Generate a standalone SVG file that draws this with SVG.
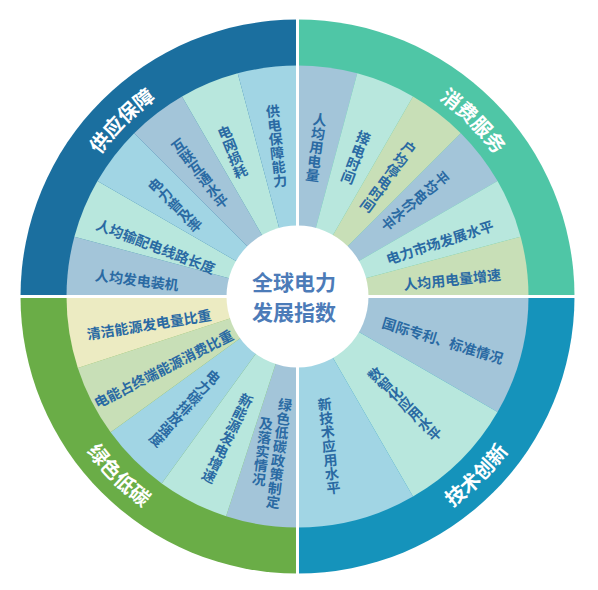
<svg xmlns="http://www.w3.org/2000/svg" width="598" height="590" viewBox="0 0 598 590">
<style>
.t{font-family:"Noto Sans CJK SC","Noto Sans",sans-serif;font-weight:bold;font-size:14px;fill:#2a6aa3;text-anchor:middle;dominant-baseline:central}
.v{writing-mode:vertical-rl}
.ring{font-family:"Noto Sans CJK SC","Noto Sans",sans-serif;font-weight:bold;font-size:20px;fill:#ffffff;text-anchor:middle}
.ctr{font-family:"Noto Sans CJK SC","Noto Sans",sans-serif;font-weight:bold;font-size:21px;fill:#4c7bb8;text-anchor:middle;dominant-baseline:central}
.A{fill:#a3c5d9}.B{fill:#b8e7dd}.C{fill:#a1d5e4}.D{fill:#c8dfb7}.E{fill:#ecebc2}
</style>
<defs>
<path id="arcTL" d="M54.5,296.5 A243,243 0 0 1 297.5,53.5"/>
<path id="arcTR" d="M297.5,53.5 A243,243 0 0 1 540.5,296.5"/>
<path id="arcBR" d="M297.5,558 A261.5,261.5 0 0 0 559,296.5"/>
<path id="arcBL" d="M36,296.5 A261.5,261.5 0 0 0 297.5,558"/>
</defs>
<g id="supply">
<path d="M297.5,296.5 L20.5,296.5 A277,277 0 0 1 297.5,19.5 Z" fill="#1b6f9f"/>
<text class="ring"><textPath href="#arcTL" startOffset="50%">供应保障</textPath></text>
</g>
<g id="consume">
<path d="M297.5,296.5 L297.5,19.5 A277,277 0 0 1 574.5,296.5 Z" fill="#4fc6a6"/>
<text class="ring"><textPath href="#arcTR" startOffset="50%">消费服务</textPath></text>
</g>
<g id="tech">
<path d="M297.5,296.5 L574.5,296.5 A277,277 0 0 1 297.5,573.5 Z" fill="#1593bb"/>
<text class="ring"><textPath href="#arcBR" startOffset="50%">技术创新</textPath></text>
</g>
<g id="green">
<path d="M297.5,296.5 L297.5,573.5 A277,277 0 0 1 20.5,296.5 Z" fill="#6aad47"/>
<text class="ring"><textPath href="#arcBL" startOffset="50%">绿色低碳</textPath></text>
</g>
<g id="s1"><path class="A" d="M297.5,296.5 L66.5,296.5 A231,231 0 0 1 74.371,236.713 Z"/><text class="t" transform="translate(137,279.5) rotate(7)">人均发电装机</text></g>
<g id="s2"><path class="B" d="M297.5,296.5 L74.371,236.713 A231,231 0 0 1 97.448,181 Z"/><text class="t" transform="translate(156,246) rotate(21)">人均输配电线路长度</text></g>
<g id="s3"><path class="C" d="M297.5,296.5 L97.448,181 A231,231 0 0 1 134.158,133.158 Z"/><text class="t v" transform="translate(175,205) rotate(-45)">电力普及率</text></g>
<g id="s4"><path class="A" d="M297.5,296.5 L134.158,133.158 A231,231 0 0 1 182,96.448 Z"/><text class="t v" transform="translate(200,173.5) rotate(-37.5)">互联互通水平</text></g>
<g id="s5"><path class="B" d="M297.5,296.5 L182,96.448 A231,231 0 0 1 237.713,73.371 Z"/><text class="t v" transform="translate(232.5,152) rotate(-22)">电网损耗</text></g>
<g id="s6"><path class="C" d="M297.5,296.5 L237.713,73.371 A231,231 0 0 1 297.5,65.5 Z"/><text class="t v" transform="translate(276.5,146) rotate(-6)">供电保障能力</text></g>
<g id="c1"><path class="A" d="M297.5,296.5 L297.5,65.5 A231,231 0 0 1 357.287,73.371 Z"/><text class="t v" transform="translate(316.3,147.5) rotate(7.5)">人均用电量</text></g>
<g id="c2"><path class="B" d="M297.5,296.5 L357.287,73.371 A231,231 0 0 1 413,96.448 Z"/><text class="t v" transform="translate(355.8,157.5) rotate(21)">接电时间</text></g>
<g id="c3"><path class="D" d="M297.5,296.5 L413,96.448 A231,231 0 0 1 460.842,133.158 Z"/><text class="t v" transform="translate(388.3,176.7) rotate(36)">户均停电时间</text></g>
<g id="c4"><path class="A" d="M297.5,296.5 L460.842,133.158 A231,231 0 0 1 497.552,181 Z"/><text class="t v" transform="translate(415,201) rotate(50)">平均电价水平</text></g>
<g id="c5"><path class="B" d="M297.5,296.5 L497.552,181 A231,231 0 0 1 520.629,236.713 Z"/><text class="t" transform="translate(439.7,241.7) rotate(-18)">电力市场发展水平</text></g>
<g id="c6"><path class="D" d="M297.5,296.5 L520.629,236.713 A231,231 0 0 1 528.5,296.5 Z"/><text class="t" transform="translate(452,279) rotate(-6)">人均用电量增速</text></g>
<g id="t1"><path class="A" d="M297.5,296.5 L528.5,296.5 A231,231 0 0 1 497.552,412 Z"/><text class="t" transform="translate(443,340) rotate(17)">国际专利、标准情况</text></g>
<g id="t2"><path class="B" d="M297.5,296.5 L497.552,412 A231,231 0 0 1 413,496.552 Z"/><text class="t v" transform="translate(405,404) rotate(-45)">数智化应用水平</text></g>
<g id="t3"><path class="C" d="M297.5,296.5 L413,496.552 A231,231 0 0 1 297.5,527.5 Z"/><text class="t v" transform="translate(329,446) rotate(-6)">新技术应用水平</text></g>
<g id="g5"><path class="A" d="M297.5,296.5 L297.5,527.5 A231,231 0 0 1 226.117,516.194 Z"/><g transform="translate(270.8,452.5) rotate(7)"><text class="t v" x="8.3" y="0">绿色低碳政策制定</text><text class="t v" x="-8.3" y="0">及落实情况</text></g></g>
<g id="g4"><path class="B" d="M297.5,296.5 L226.117,516.194 A231,231 0 0 1 161.722,483.383 Z"/><text class="t v" transform="translate(227.5,438.3) rotate(26)">新能源发电增速</text></g>
<g id="g3"><path class="C" d="M297.5,296.5 L161.722,483.383 A231,231 0 0 1 110.617,432.278 Z"/><text class="t v" transform="translate(184.8,408.3) rotate(42)">电力碳排放强度</text></g>
<g id="g2"><path class="D" d="M297.5,296.5 L110.617,432.278 A231,231 0 0 1 77.806,367.883 Z"/><text class="t" transform="translate(163.3,368.3) rotate(-27)">电能占终端能源消费比重</text></g>
<g id="g1"><path class="E" d="M297.5,296.5 L77.806,367.883 A231,231 0 0 1 66.5,296.5 Z"/><text class="t" transform="translate(149,324) rotate(-9)">清洁能源发电量比重</text></g>
<g id="connectors">
<line x1="15" y1="296.5" x2="580" y2="296.5" stroke="#ffffff" stroke-width="3"/>
<line x1="297.5" y1="15" x2="297.5" y2="578" stroke="#ffffff" stroke-width="3"/>
</g>
<g id="center">
<circle cx="297.5" cy="296.5" r="71" fill="#ffffff"/>
<text class="ctr"><tspan x="294" y="280.5">全球电力</tspan><tspan x="294" y="311">发展指数</tspan></text>
</g>
</svg>
